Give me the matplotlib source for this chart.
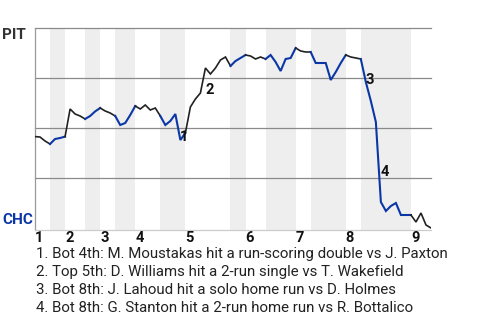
import matplotlib
matplotlib.use("Agg")
import matplotlib.pyplot as plt

plt.rcParams['font.family'] = ['Roboto', 'DejaVu Sans']

# PIT win probability (%) after each plate appearance
wp = [45.7, 45.5, 43.5, 42, 44.5, 45, 45.7, 59.5, 57, 56,
      54.5, 56, 58.3, 60, 58.5, 57.5, 56, 51.5, 52.5, 56.5,
      61, 59.5, 61.5, 59, 60, 56, 51.5, 53.5, 57, 44,
      47.5, 60.5, 64.5, 67.5, 80, 77, 80, 84, 85.5, 81,
      83.5, 85, 86.5, 86, 84.5, 85.5, 84.5, 86.5, 83, 78.5,
      84.5, 85, 90, 88.5, 88, 88, 82.5, 82.5, 82.5, 74,
      78, 82.5, 86.5, 85.5, 85, 84.5, 73, 63.5, 53, 13,
      8.5, 11, 12.5, 6.5, 6.5, 6.5, 3, 7.5, 1.5, 0]

# index where each half inning starts (last one = end of game)
half_starts = [0, 3, 6, 10, 13, 16, 20, 25, 30, 39, 42, 46, 52, 55, 62, 65, 75, 79]
innings = ['1', '2', '3', '4', '5', '6', '7', '8', '9']

# key plays: index of the plate appearance before the play
key_plays = [28, 33, 65, 68]
key_text = [
    "1. Bot 4th: M. Moustakas hit a run-scoring double vs J. Paxton",
    "2. Top 5th: D. Williams hit a 2-run single vs T. Wakefield",
    "3. Bot 8th: J. Lahoud hit a solo home run vs D. Holmes",
    "4. Bot 8th: G. Stanton hit a 2-run home run vs R. Bottalico",
]

blue = '#0b37a6'
dark = '#222222'

fig = plt.figure(figsize=(4.8, 3.2), dpi=100)
ax = fig.add_axes([35 / 480, 90 / 320, 396 / 480, 202 / 320])
ax.set_xlim(0, len(wp) - 1)
ax.set_ylim(-1, 100)

# shaded bottom halves
for k in range(1, len(half_starts) - 1, 2):
    ax.axvspan(half_starts[k], half_starts[k + 1], color='#eeeeee', lw=0, zorder=0)

for y in [25, 50, 75, 100]:
    ax.axhline(y, color='#8a8a8a', lw=0.9, zorder=1, clip_on=False)

# line segments, black when PIT bats, blue when CHC bats
for k in range(len(half_starts) - 1):
    a, b = half_starts[k], half_starts[k + 1]
    xs = list(range(a, b + 1))
    col = dark if k % 2 == 0 else blue
    lw = 1.2 if k % 2 == 0 else 1.5
    ax.plot(xs, wp[a:b + 1], color=col, lw=lw, zorder=3, solid_joinstyle='miter')

for n, i in enumerate(key_plays):
    xm = i + 0.5
    ym = (wp[i] + wp[i + 1]) / 2
    ax.annotate(str(n + 1), (xm, ym), xytext=(1.5, -2), textcoords='offset points',
                ha='left', va='top', fontsize=10.5, fontweight='bold', color='#111111',
                zorder=4)

for s in ['top', 'right']:
    ax.spines[s].set_visible(False)
ax.spines['left'].set_color('#999999')
ax.spines['left'].set_linewidth(0.9)
ax.spines['bottom'].set_color('#cccccc')
ax.spines['bottom'].set_linewidth(0.9)
ax.set_xticks([])
ax.set_yticks([])

# inning numbers at the start of each top half
for j, lab in enumerate(innings):
    ax.text(half_starts[2 * j], -0.04, lab, transform=ax.get_xaxis_transform(),
            ha='left', va='center', fontsize=10.5, fontweight='bold', color='#111111')

fig.text(2 / 480, 1 - 35 / 320, 'PIT', ha='left', va='center', fontsize=11,
         fontweight='bold', color='#333333')
fig.text(2 / 480, 1 - 220.5 / 320, 'CHC', ha='left', va='center', fontsize=11,
         fontweight='bold', color=blue)

for n, t in enumerate(key_text):
    fig.text(36 / 480, 1 - (254 + 18 * n) / 320, t, ha='left', va='center',
             fontsize=10.8, color='#222222')

fig.savefig('out.png', dpi=100)
